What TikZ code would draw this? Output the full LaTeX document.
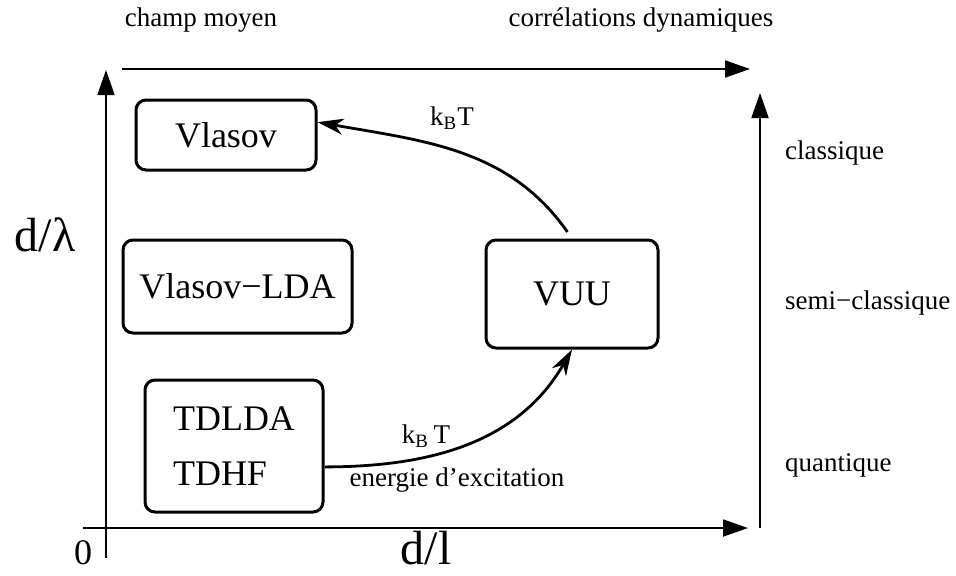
\documentclass[tikz,border=0pt]{standalone}
\usepackage{fontspec}
\setmainfont{Liberation Serif}
\usetikzlibrary{arrows.meta}

\begin{document}
\begin{tikzpicture}
[
  x=0.5pt, y=0.5pt,
  model/.style={draw,line width=1.5pt,rounded corners=5pt,inner sep=0pt,font=\fontsize{18}{22}\selectfont},
  axis/.style={line width=0.9pt,-{Triangle[length=12.5pt,width=8.5pt]}},
  flow/.style={line width=1.4pt,-{Stealth[length=13pt,width=8pt,inset=4pt]}},
  lbl/.style={font=\fontsize{13.5}{16}\selectfont},
  big/.style={font=\fontsize{24}{28}\selectfont}
]
\useasboundingbox (0,0) rectangle (956,-575);

% axes
\draw[axis] (83,-528) -- (748,-528);
\draw[axis] (106,-558) -- (106,-70);
\node[big] (dl) at (426,-548) {d/l};
\node[big] (dlambda) at (45,-235) {d/λ};
\node[font=\fontsize{18}{22}\selectfont] (zero) at (83,-553) {0};

% top scale
\draw[axis] (122,-69) -- (750,-69);
\node[lbl] (champ) at (201,-20) {champ moyen};
\node[lbl] (correl) at (641,-20) {corrélations dynamiques};

% right scale
\draw[axis] (760,-528) -- (760,-93);
\node[lbl,anchor=west] (classique) at (778,-153) {classique};
\node[lbl,anchor=west] (semi) at (778,-303) {semi−classique};
\node[lbl,anchor=west] (quantique) at (778,-465) {quantique};

% models
\node[model,minimum width=90pt,minimum height=35pt] (Vlasov) at (226,-135) {Vlasov\hspace{6pt}};
\node[model,minimum width=114.5pt,minimum height=46.5pt] (VlasovLDA) at (237.5,-286.5) {Vlasov−LDA};
\node[model,minimum width=86pt,minimum height=54pt] (VUU) at (572,-294) {VUU};
\node[model,minimum width=89pt,minimum height=66pt,align=left,font=\fontsize{18}{27.5}\selectfont] (TD) at (234,-446) {TDLDA\\TDHF};

% transitions
\draw[flow,shorten <=4pt] (VUU.north) to[out=125,in=-10] (Vlasov.8);
\node[lbl] (kbtop) at (452,-118) {k\textsubscript{B}T};
\draw[flow] (TD.-13) to[out=0,in=240] (VUU.south);
\node[lbl] (kbbot) at (426,-436) {k\textsubscript{B}\,T};
\node[lbl] (excit) at (457,-480) {energie d’excitation};

\end{tikzpicture}
\end{document}
